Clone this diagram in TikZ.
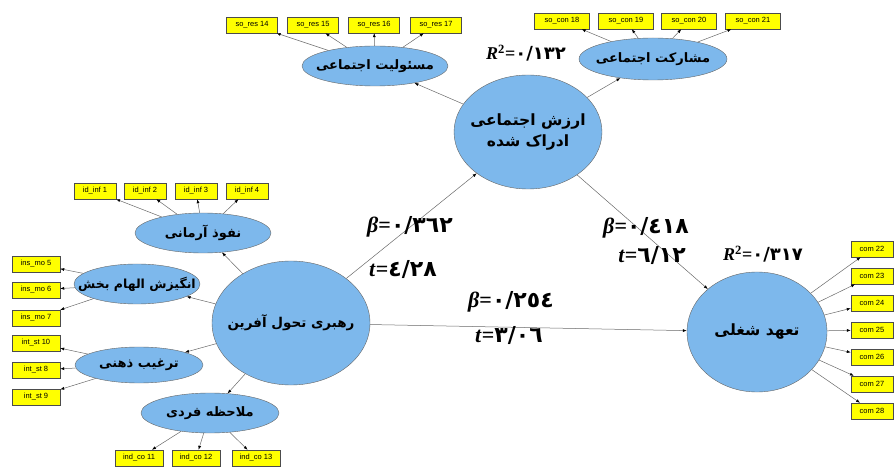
\documentclass[tikz,border=0pt]{standalone}
\usepackage{fontspec}
\setmainfont{Liberation Serif}
\newfontfamily\indfont{Liberation Sans}
\newfontfamily\fafont[Script=Arabic]{DejaVu Sans}
\newfontfamily\digfont{DejaVu Sans}
\TeXXeTstate=1
\definecolor{latblue}{RGB}{125, 184, 236}
\definecolor{indyellow}{RGB}{255, 255, 0}
\definecolor{linkgray}{RGB}{105, 105, 105}
\usetikzlibrary{shapes, arrows.meta}
\newcommand{\betaval}[1]{\textbf{\textit{β}}\textbf{=}{\digfont\bfseries #1}}
\newcommand{\tval}[1]{\textbf{\textit{t}}\textbf{=}{\digfont\bfseries #1}}
\newcommand{\rval}[1]{\textbf{\textit{R}}\textsuperscript{\textbf{2}}\textbf{=}{\digfont\bfseries #1}}

\begin{document}
\begin{tikzpicture}[x=1pt, y=-1pt,
  latent/.style={ellipse, draw=black!60, fill=latblue, inner xsep=-25pt, inner ysep=0pt, align=center,
    font=\fafont\bfseries\fontsize{13}{17}\selectfont},
  indic/.style={rectangle, draw=black!70, fill=indyellow, inner sep=1pt, minimum height=16pt,
    font=\indfont\fontsize{7.5}{8}\selectfont},
  link/.style={draw=linkgray, line width=0.5pt, -{Latex[length=4pt, width=3pt, color=black]}},
  coef/.style={inner sep=0pt, font=\fontsize{22}{24}\selectfont},
  rsq/.style={inner sep=0pt, font=\fontsize{18}{20}\selectfont}]
  \useasboundingbox (0,0) rectangle (894,470);

  % constructs
  \node[latent, minimum width=158pt, minimum height=124pt, font=\fafont\bfseries\fontsize{13.5}{18}\selectfont] (ttl) at (291,323) {\beginR رهبری تحول آفرین\endR};
  \node[latent, minimum width=148pt, minimum height=114pt, font=\fafont\bfseries\fontsize{15.5}{21}\selectfont] (psv) at (528,132) {\beginR ارزش اجتماعی\endR\\\beginR ادراک شده\endR};
  \node[latent, minimum width=140pt, minimum height=120pt, font=\fafont\bfseries\fontsize{15.5}{19}\selectfont] (jc) at (757,332) {\beginR تعهد شغلی\endR};

  % dimensions
  \node[latent, minimum width=146pt, minimum height=40pt] (sr) at (375,66) {\beginR مسئولیت اجتماعی\endR};
  \node[latent, minimum width=148pt, minimum height=42pt] (sp) at (653,59) {\beginR مشارکت اجتماعی\endR};
  \node[latent, minimum width=136pt, minimum height=40pt] (ii) at (203,233) {\beginR نفوذ آرمانی\endR};
  \node[latent, minimum width=126pt, minimum height=40pt, font=\fafont\bfseries\fontsize{12.5}{16}\selectfont] (im) at (137,284) {\beginR انگیزش الهام بخش\endR};
  \node[latent, minimum width=128pt, minimum height=36pt] (is) at (139,365) {\beginR ترغیب ذهنی\endR};
  \node[latent, minimum width=138pt, minimum height=40pt] (ic) at (210,413) {\beginR ملاحظه فردی\endR};

  % structural paths
  \draw[link] (ttl) -- (psv);
  \draw[link] (psv) -- (jc);
  \draw[link] (ttl) -- (jc);
  \draw[link] (psv) -- (sr);
  \draw[link] (psv) -- (sp);
  \draw[link] (ttl) -- (ii);
  \draw[link] (ttl) -- (im);
  \draw[link] (ttl) -- (is);
  \draw[link] (ttl) -- (ic);

  % coefficients
  \node[coef] (b1) at (410,227) {\betaval{٠/٣٦٢}};
  \node[coef] (t1) at (403,270) {\tval{٤/٢٨}};
  \node[coef] (b2) at (646,228) {\betaval{٠/٤١٨}};
  \node[coef] (t2) at (652,256) {\tval{٦/١٢}};
  \node[coef] (b3) at (511,302) {\betaval{٠/٢٥٤}};
  \node[coef] (t3) at (509,336) {\tval{٣/٠٦}};
  \node[rsq] (r1) at (526,53) {\rval{٠/١٣٢}};
  \node[rsq] (r2) at (763,254) {\rval{٠/٣١٧}};

  % indicators of social responsibility
  \node[indic, minimum width=51pt] (sr14) at (252,25) {so\_res 14};
  \node[indic, minimum width=51pt] (sr15) at (313,25) {so\_res 15};
  \node[indic, minimum width=51pt] (sr16) at (374,25) {so\_res 16};
  \node[indic, minimum width=51pt] (sr17) at (436,25) {so\_res 17};
  \draw[link] (sr) -- (sr14);
  \draw[link] (sr) -- (sr15);
  \draw[link] (sr) -- (sr16);
  \draw[link] (sr) -- (sr17);

  % indicators of social participation
  \node[indic, minimum width=55pt] (sp18) at (562,21) {so\_con 18};
  \node[indic, minimum width=55pt] (sp19) at (626,21) {so\_con 19};
  \node[indic, minimum width=55pt] (sp20) at (689,21) {so\_con 20};
  \node[indic, minimum width=55pt] (sp21) at (753,21) {so\_con 21};
  \draw[link] (sp) -- (sp18);
  \draw[link] (sp) -- (sp19);
  \draw[link] (sp) -- (sp20);
  \draw[link] (sp) -- (sp21);

  % indicators of idealized influence
  \node[indic, minimum width=42pt] (ii1) at (95,191) {id\_inf 1};
  \node[indic, minimum width=42pt] (ii2) at (145,191) {id\_inf 2};
  \node[indic, minimum width=42pt] (ii3) at (196,191) {id\_inf 3};
  \node[indic, minimum width=42pt] (ii4) at (247,191) {id\_inf 4};
  \draw[link] (ii) -- (ii1);
  \draw[link] (ii) -- (ii2);
  \draw[link] (ii) -- (ii3);
  \draw[link] (ii) -- (ii4);

  % indicators of inspirational motivation
  \node[indic, minimum width=48pt] (im5) at (36,264) {ins\_mo 5};
  \node[indic, minimum width=48pt] (im6) at (36,290) {ins\_mo 6};
  \node[indic, minimum width=48pt] (im7) at (36,318) {ins\_mo 7};
  \draw[link] (im) -- (im5);
  \draw[link] (im) -- (im6);
  \draw[link] (im) -- (im7);

  % indicators of intellectual stimulation
  \node[indic, minimum width=48pt] (is10) at (36,343) {int\_st 10};
  \node[indic, minimum width=48pt] (is8) at (36,370) {int\_st 8};
  \node[indic, minimum width=48pt] (is9) at (36,397) {int\_st 9};
  \draw[link] (is) -- (is10);
  \draw[link] (is) -- (is8);
  \draw[link] (is) -- (is9);

  % indicators of individualized consideration
  \node[indic, minimum width=48pt] (ic11) at (139,458) {ind\_co 11};
  \node[indic, minimum width=48pt] (ic12) at (196,458) {ind\_co 12};
  \node[indic, minimum width=48pt] (ic13) at (256,458) {ind\_co 13};
  \draw[link] (ic) -- (ic11);
  \draw[link] (ic) -- (ic12);
  \draw[link] (ic) -- (ic13);

  % indicators of job commitment
  \node[indic, minimum width=42pt] (c22) at (872,249) {com 22};
  \node[indic, minimum width=42pt] (c23) at (872,276) {com 23};
  \node[indic, minimum width=42pt] (c24) at (872,303) {com 24};
  \node[indic, minimum width=42pt] (c25) at (872,330) {com 25};
  \node[indic, minimum width=42pt] (c26) at (872,357) {com 26};
  \node[indic, minimum width=42pt] (c27) at (872,384) {com 27};
  \node[indic, minimum width=42pt] (c28) at (872,411) {com 28};
  \draw[link] (jc) -- (c22);
  \draw[link] (jc) -- (c23);
  \draw[link] (jc) -- (c24);
  \draw[link] (jc) -- (c25);
  \draw[link] (jc) -- (c26);
  \draw[link] (jc) -- (c27);
  \draw[link] (jc) -- (c28);
\end{tikzpicture}
\end{document}
